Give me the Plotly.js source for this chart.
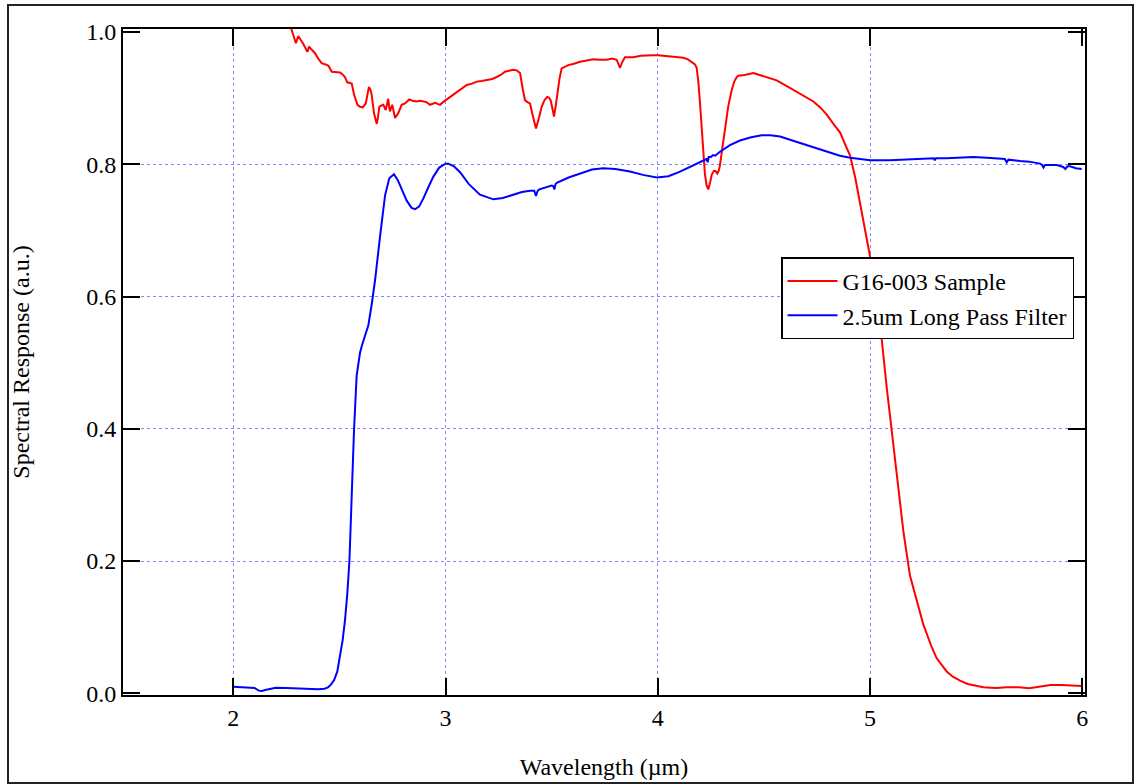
<!DOCTYPE html>
<html>
<head>
<meta charset="utf-8">
<script src="https://cdn.plot.ly/plotly-3.0.1.min.js"></script>
<style>
  html, body { margin: 0; padding: 0; background: #fff; }
  #chart { width: 1136px; height: 784px; }
</style>
</head>
<body>
<div id="chart"></div>
<script>
// Spectral response of the G16-003 sample (red) and the 2.5 um long pass filter (blue)

const sampleName = 'G16-003 Sample';
const filterName = '2.5um Long Pass Filter';

// G16-003 sample: wavelength (um) and response (a.u.)
const sampleWavelength = [
  2.272, 2.28, 2.295, 2.306, 2.318, 2.33, 2.349, 2.357, 2.365, 2.385, 2.40, 2.416, 2.435, 2.448, 2.464,
  2.485, 2.503, 2.515, 2.526, 2.537, 2.558, 2.569, 2.585, 2.597, 2.61, 2.624, 2.632, 2.639, 2.646, 2.652,
  2.663, 2.676, 2.682, 2.688, 2.698, 2.707, 2.718, 2.724, 2.73, 2.734, 2.738, 2.749, 2.756, 2.762, 2.777,
  2.785, 2.793, 2.809, 2.82, 2.829, 2.845, 2.864, 2.88, 2.895, 2.91, 2.927, 2.94, 2.951, 2.965, 2.974,
  2.988, 3.001, 3.025, 3.053, 3.075, 3.10, 3.125, 3.147, 3.17, 3.194, 3.22, 3.241, 3.26, 3.28, 3.30,
  3.319, 3.335, 3.351, 3.363, 3.374, 3.386, 3.398, 3.41, 3.426, 3.44, 3.453, 3.466, 3.479, 3.487, 3.495,
  3.503, 3.511, 3.519, 3.527, 3.537, 3.547, 3.578, 3.605, 3.633, 3.665, 3.696, 3.73, 3.759, 3.785, 3.806,
  3.814, 3.822, 3.83, 3.845, 3.865, 3.884, 3.92, 3.948, 3.975, 4.002, 4.04, 4.073, 4.10, 4.12, 4.14,
  4.16, 4.175, 4.183, 4.191, 4.199, 4.207, 4.214, 4.222, 4.23, 4.238, 4.246, 4.254, 4.264, 4.272, 4.28,
  4.287, 4.293, 4.305, 4.317, 4.332, 4.348, 4.36, 4.372, 4.379, 4.41, 4.45, 4.48, 4.513, 4.56, 4.61,
  4.654, 4.69, 4.733, 4.765, 4.796, 4.83, 4.859, 4.88, 4.906, 4.93, 4.953, 4.984, 5.008, 5.03, 5.055,
  5.079, 5.102, 5.126, 5.157, 5.188, 5.22, 5.25, 5.267, 5.29, 5.314, 5.34, 5.361, 5.39, 5.424, 5.46,
  5.50, 5.534, 5.57, 5.60, 5.64, 5.70, 5.75, 5.80, 5.85, 5.90, 5.95, 6.00
];
const sampleResponse = [
  1.006, 0.999, 0.983, 0.994, 0.988, 0.982, 0.970, 0.978, 0.975, 0.968, 0.960, 0.953, 0.951, 0.949, 0.940,
  0.939, 0.939, 0.936, 0.932, 0.924, 0.922, 0.905, 0.890, 0.887, 0.886, 0.892, 0.905, 0.917, 0.913, 0.905,
  0.877, 0.861, 0.872, 0.887, 0.889, 0.890, 0.882, 0.890, 0.899, 0.888, 0.880, 0.890, 0.880, 0.870, 0.877,
  0.884, 0.890, 0.892, 0.895, 0.898, 0.896, 0.895, 0.896, 0.895, 0.894, 0.890, 0.892, 0.893, 0.891, 0.890,
  0.894, 0.897, 0.902, 0.908, 0.914, 0.920, 0.922, 0.925, 0.926, 0.927, 0.929, 0.932, 0.935, 0.940, 0.942,
  0.943, 0.942, 0.938, 0.915, 0.897, 0.894, 0.892, 0.875, 0.854, 0.870, 0.887, 0.897, 0.902, 0.901, 0.897,
  0.885, 0.872, 0.888, 0.907, 0.930, 0.945, 0.950, 0.952, 0.955, 0.957, 0.959, 0.958, 0.958, 0.960, 0.958,
  0.952, 0.946, 0.953, 0.962, 0.962, 0.962, 0.964, 0.965, 0.965, 0.965, 0.964, 0.963, 0.962, 0.961, 0.959,
  0.955, 0.951, 0.946, 0.925, 0.892, 0.850, 0.815, 0.785, 0.768, 0.762, 0.772, 0.784, 0.790, 0.790, 0.786,
  0.790, 0.799, 0.828, 0.857, 0.888, 0.912, 0.925, 0.932, 0.934, 0.935, 0.938, 0.935, 0.932, 0.927, 0.918,
  0.910, 0.903, 0.895, 0.886, 0.875, 0.860, 0.848, 0.832, 0.813, 0.780, 0.740, 0.690, 0.647, 0.598, 0.535,
  0.461, 0.399, 0.330, 0.245, 0.178, 0.140, 0.105, 0.090, 0.070, 0.053, 0.042, 0.033, 0.025, 0.019, 0.014,
  0.011, 0.009, 0.0085, 0.008, 0.009, 0.009, 0.0075, 0.010, 0.0125, 0.0125, 0.0115, 0.011
];

// 2.5 um long pass filter: wavelength (um) and response (a.u.)
const filterWavelength = [
  2.0, 2.05, 2.1, 2.12, 2.134, 2.15, 2.18, 2.2, 2.25, 2.3, 2.35, 2.4, 2.43, 2.446, 2.46,
  2.475, 2.49, 2.503, 2.515, 2.526, 2.537, 2.547, 2.558, 2.569, 2.581, 2.597, 2.607, 2.616, 2.636, 2.652,
  2.668, 2.691, 2.715, 2.735, 2.757, 2.775, 2.795, 2.817, 2.84, 2.856, 2.875, 2.895, 2.92, 2.942, 2.97,
  3.0, 3.013, 3.04, 3.068, 3.11, 3.162, 3.225, 3.27, 3.319, 3.36, 3.398, 3.418, 3.426, 3.434, 3.442,
  3.47, 3.5, 3.507, 3.513, 3.518, 3.524, 3.58, 3.633, 3.69, 3.743, 3.80, 3.869, 3.93, 3.995, 4.05,
  4.105, 4.16, 4.214, 4.23, 4.235, 4.24, 4.25, 4.26, 4.27, 4.293, 4.34, 4.387, 4.44, 4.49, 4.53,
  4.576, 4.623, 4.69, 4.749, 4.80, 4.858, 4.906, 4.95, 5.0, 5.094, 5.17, 5.251, 5.30, 5.305, 5.31,
  5.361, 5.42, 5.487, 5.55, 5.612, 5.635, 5.644, 5.652, 5.707, 5.75, 5.801, 5.81, 5.817, 5.825, 5.879,
  5.91, 5.92, 5.93, 5.942, 5.97, 5.997
];
const filterResponse = [
  0.010, 0.0095, 0.008, 0.004, 0.0035, 0.005, 0.0075, 0.0085, 0.008, 0.007, 0.0065, 0.006, 0.007, 0.009, 0.013,
  0.020, 0.033, 0.055, 0.080, 0.110, 0.150, 0.200, 0.310, 0.400, 0.480, 0.515, 0.527, 0.535, 0.556, 0.588,
  0.625, 0.690, 0.753, 0.779, 0.785, 0.776, 0.762, 0.745, 0.734, 0.732, 0.736, 0.748, 0.766, 0.781, 0.795,
  0.801, 0.801, 0.797, 0.788, 0.770, 0.754, 0.747, 0.749, 0.754, 0.758, 0.760, 0.760, 0.752, 0.760, 0.762,
  0.765, 0.768, 0.767, 0.762, 0.770, 0.772, 0.780, 0.786, 0.792, 0.794, 0.793, 0.789, 0.784, 0.780, 0.782,
  0.789, 0.797, 0.805, 0.808, 0.803, 0.811, 0.811, 0.814, 0.813, 0.819, 0.829, 0.836, 0.841, 0.844, 0.844,
  0.842, 0.837, 0.830, 0.824, 0.818, 0.813, 0.810, 0.808, 0.806, 0.806, 0.807, 0.808, 0.809, 0.806, 0.809,
  0.809, 0.810, 0.811, 0.810, 0.809, 0.808, 0.803, 0.807, 0.805, 0.804, 0.801, 0.799, 0.795, 0.799, 0.799,
  0.796, 0.793, 0.797, 0.797, 0.794, 0.793
];

// Axis ticks (labelled) and the interior values that carry grid lines
const xTickValues = [2, 3, 4, 5, 6];
const xTickLabels = ['2', '3', '4', '5', '6'];
const yTickValues = [0, 0.2, 0.4, 0.6, 0.8, 1.0];
const yTickLabels = ['0.0', '0.2', '0.4', '0.6', '0.8', '1.0'];
const xGridValues = [2, 3, 4, 5];
const yGridValues = [0.2, 0.4, 0.6, 0.8];

const xRange = [1.4803, 6.0127];
const yRange = [-0.0026, 1.0046];

const serif = 'Liberation Serif';
const fontSize = 24;

const traces = [
  {
    type: 'scatter', mode: 'lines', name: sampleName,
    x: sampleWavelength, y: sampleResponse,
    line: { color: '#ff0000', width: 2 }
  },
  {
    type: 'scatter', mode: 'lines', name: filterName,
    x: filterWavelength, y: filterResponse,
    line: { color: '#0000ff', width: 2 }
  },
  // empty trace that carries the dotted grid axes
  { type: 'scatter', mode: 'lines', x: [], y: [], xaxis: 'x2', yaxis: 'y2', showlegend: false, hoverinfo: 'skip' }
];

const frameAxis = {
  ticks: 'inside', ticklen: 17, tickwidth: 2, tickcolor: '#000',
  showline: true, linewidth: 2, linecolor: '#000', mirror: 'ticks',
  showgrid: false, zeroline: false,
  tickfont: { family: serif, size: fontSize, color: '#000' }
};

const gridAxis = {
  showgrid: true, gridcolor: '#8585ff', gridwidth: 1, griddash: 'dot',
  ticks: '', showticklabels: false, showline: false, zeroline: false, tickmode: 'array'
};

// plot area in pixels: x 123..1085, y 29..695
const layout = {
  width: 1136, height: 784,
  margin: { l: 123, r: 51, t: 29, b: 89, pad: 0 },
  paper_bgcolor: '#fff', plot_bgcolor: '#fff',
  font: { family: serif, size: fontSize, color: '#000' },
  showlegend: true,
  legend: {
    x: 0.684, y: 0.657, xanchor: 'left', yanchor: 'top',
    bgcolor: '#fff', bordercolor: '#000', borderwidth: 1.5, itemwidth: 50,
    font: { family: serif, size: fontSize, color: '#000' }, tracegroupgap: 0
  },
  xaxis: Object.assign({}, frameAxis, {
    range: xRange, tickmode: 'array',
    tickvals: xTickValues, ticktext: xTickLabels,
    title: { text: 'Wavelength (µm)', font: { family: serif, size: fontSize, color: '#000' }, standoff: 28 }
  }),
  yaxis: Object.assign({}, frameAxis, {
    range: yRange, tickmode: 'array',
    tickvals: yTickValues, ticktext: yTickLabels,
    title: { text: 'Spectral Response (a.u.)', font: { family: serif, size: fontSize, color: '#000' }, standoff: 50 }
  }),
  xaxis2: Object.assign({}, gridAxis, { overlaying: 'x', range: xRange, tickvals: xGridValues, anchor: 'y2' }),
  yaxis2: Object.assign({}, gridAxis, { overlaying: 'y', range: yRange, tickvals: yGridValues, anchor: 'x2' }),
  shapes: [
    {
      type: 'rect', xref: 'paper', yref: 'paper', layer: 'above',
      x0: (8 - 123) / 962, x1: (1133 - 123) / 962,
      y0: (695 - 783) / 666, y1: (695 - 5) / 666,
      line: { color: '#222', width: 2 }, fillcolor: 'rgba(0,0,0,0)'
    }
  ]
};

Plotly.newPlot('chart', traces, layout, { staticPlot: true, displayModeBar: false });
</script>
</body>
</html>
